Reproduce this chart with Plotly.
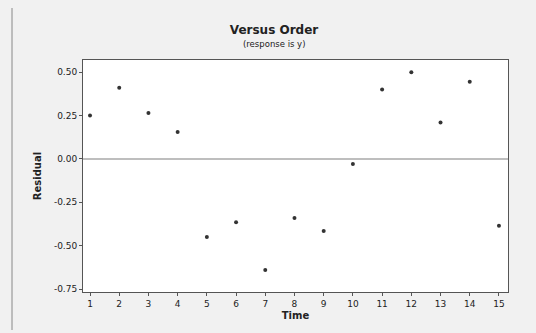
import plotly.graph_objects as go

order = list(range(1, 16))
residual = [0.25, 0.41, 0.265, 0.155, -0.45, -0.365, -0.64, -0.34, -0.415, -0.03, 0.40, 0.50, 0.21, 0.445, -0.385]
y_ticks = [0.50, 0.25, 0.00, -0.25, -0.50, -0.75]
y_labels = ["0.50", "0.25", "0.00", "-0.25", "-0.50", "-0.75"]

W, H = 536, 333
L, R, T, B = 83, 28, 60, 41
pw = W - L - R
ph = H - T - B

fig = go.Figure()
fig.add_trace(go.Scatter(x=order, y=residual, mode="markers",
                         marker=dict(size=4, color="#333333"), showlegend=False))

fig.add_hline(y=0, line=dict(color="#a8a8a8", width=1.5))

fig.update_layout(
    width=W, height=H,
    margin=dict(l=L, r=R, t=T, b=B),
    paper_bgcolor="#f1f1f1",
    plot_bgcolor="white",
    font=dict(family="DejaVu Sans", size=9, color="#222222"),
    title=dict(text="<b>Versus Order</b>",
               x=274 / W, xref="container", xanchor="center", y=1 - 30 / H, yref="container",
               yanchor="middle", font=dict(size=12, color="#222222")),
    xaxis=dict(range=[0.76, 15.31], tickvals=order, ticks="outside", ticklen=3,
               tickcolor="#555", showgrid=False, zeroline=False, showline=True,
               linecolor="#555", linewidth=1, mirror=True,
               title=dict(text="<b>Time</b>", standoff=4, font=dict(size=10)),
               tickfont=dict(size=9)),
    yaxis=dict(range=[-0.767, 0.57], tickvals=y_ticks, ticktext=y_labels, ticks="outside",
               ticklen=3, tickcolor="#555", showgrid=False, zeroline=False, showline=True,
               linecolor="#555", linewidth=1, mirror=True,
               title=dict(text="<b>Residual</b>", standoff=10, font=dict(size=10)),
               tickfont=dict(size=9)),
)

fig.add_annotation(text="(response is y)", xref="paper", yref="paper",
                   x=(274 - L) / pw, y=1 + (T - 44) / ph, xanchor="center", yanchor="middle",
                   showarrow=False, font=dict(size=8.5, color="#222222"))

# outer frame line on the left
fig.add_shape(type="line", xref="paper", yref="paper",
              x0=(12 - L) / pw, x1=(12 - L) / pw, y0=-(B - 3) / ph, y1=1 + (T - 8) / ph,
              line=dict(color="#888888", width=1))

fig.write_html("out.html", config={"displayModeBar": False},
               post_script="document.body.style.margin='0';document.body.style.background='#f1f1f1';")
